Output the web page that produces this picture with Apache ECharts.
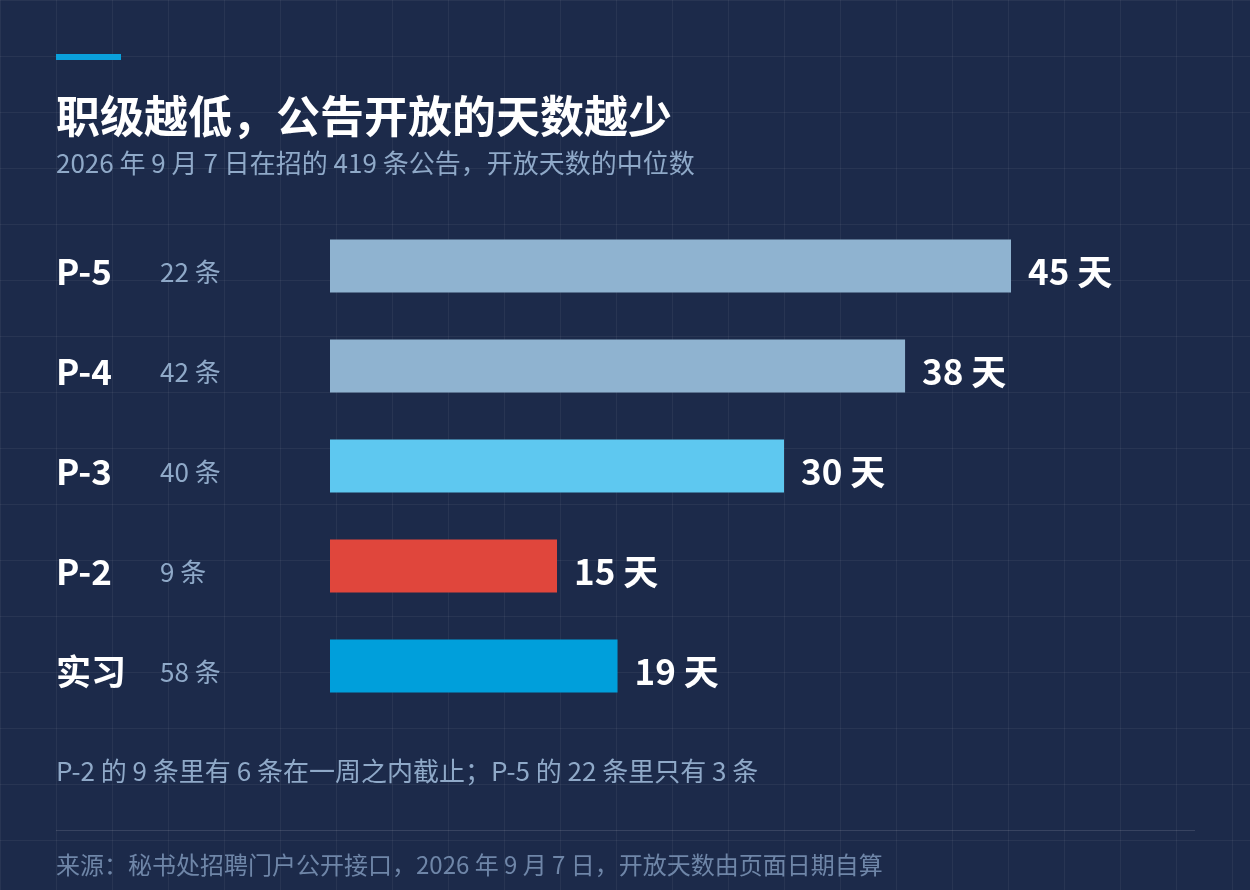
<!DOCTYPE html>
<html><head><meta charset="utf-8">
<script src="https://cdn.jsdelivr.net/npm/echarts@6/dist/echarts.min.js"></script>
<style>
html,body{margin:0;padding:0;background:#1c2a4a;}
#chart{width:1250px;height:890px;
background-color:#1c2a4a;
background-image:linear-gradient(rgba(255,255,255,0.05) 1px,transparent 1px),linear-gradient(90deg,rgba(255,255,255,0.05) 1px,transparent 1px);
background-size:56px 56px;background-position:0 0;}
</style></head>
<body><div id="chart"></div>
<script>
var grades = ['P-5', 'P-4', 'P-3', 'P-2', '实习'];
var counts = [22, 42, 40, 9, 58];
var days = [45, 38, 30, 15, 19];
var colors = ['#8fb3d0', '#8fb3d0', '#5ec8f0', '#e0463c', '#009fdb'];

var font = '"Noto Sans CJK SC", "Noto Sans", sans-serif';
var myChart = echarts.init(document.getElementById('chart'));

var option = {
    backgroundColor: 'transparent',
    textStyle: { fontFamily: font },
    grid: { left: 330, top: 216, width: 681, height: 500 },
    xAxis: { type: 'value', min: 0, max: 45, show: false },
    yAxis: {
        type: 'category',
        inverse: true,
        data: grades,
        axisLine: { show: false },
        axisTick: { show: false },
        axisLabel: {
            align: 'left',
            margin: 274,
            padding: [12, 0, 0, 0],
            formatter: function (v, i) {
                return '{g|' + v + '}{n|' + counts[i] + ' 条}';
            },
            rich: {
                g: { fontFamily: font, fontSize: 35, fontWeight: 'bold', color: '#ffffff', width: 104 },
                n: { fontFamily: font, fontSize: 26, color: '#8fa9c8' }
            }
        }
    },
    series: [{
        type: 'bar',
        barWidth: 53,
        silent: true,
        data: days.map(function (d, i) {
            return { value: d, itemStyle: { color: colors[i] } };
        }),
        label: {
            show: true,
            position: 'right',
            distance: 17,
            offset: [0, 6],
            formatter: '{c} 天',
            fontFamily: font,
            fontSize: 35,
            fontWeight: 'bold',
            color: '#ffffff'
        }
    }],
    graphic: [
        { type: 'rect', shape: { x: 56, y: 54, width: 65, height: 6 }, style: { fill: '#0aa0dc' } },
        { type: 'text', left: 56, top: 94, style: { text: '职级越低，公告开放的天数越少', font: 'bold 44px ' + font, fill: '#ffffff' } },
        { type: 'text', left: 56, top: 150, style: { text: '2026 年 9 月 7 日在招的 419 条公告，开放天数的中位数', font: '26px ' + font, fill: '#8fa9c8' } },
        { type: 'text', left: 56, top: 758, style: { text: 'P-2 的 9 条里有 6 条在一周之内截止；P-5 的 22 条里只有 3 条', font: '26px ' + font, fill: '#8fa9c8' } },
        { type: 'rect', shape: { x: 56, y: 830, width: 1139, height: 1 }, style: { fill: 'rgba(255,255,255,0.12)' } },
        { type: 'text', left: 56, top: 853, style: { text: '来源：秘书处招聘门户公开接口，2026 年 9 月 7 日，开放天数由页面日期自算', font: '24px ' + font, fill: '#6f86a8' } }
    ]
};
myChart.setOption(option);
</script></body></html>
